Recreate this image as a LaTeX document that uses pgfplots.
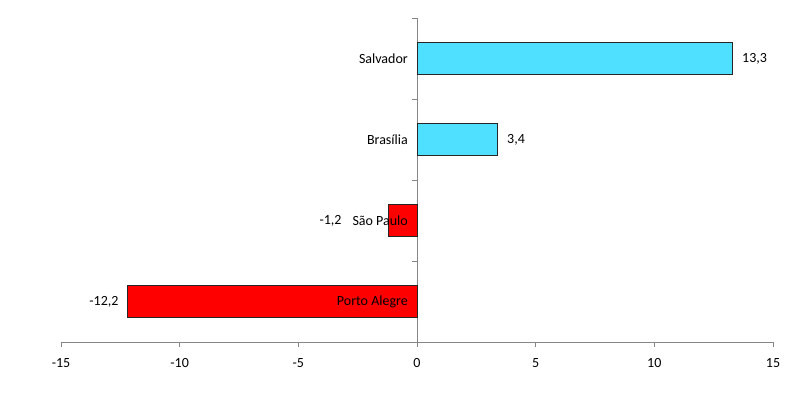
\documentclass[border=0pt]{standalone}
\usepackage{pgfplots}
\pgfplotsset{compat=1.18}
\usepackage{fontspec}
\setmainfont{Carlito}
\definecolor{barcyan}{HTML}{50E0FF}
\definecolor{axgray}{HTML}{868686}
\begin{document}
\fontsize{14pt}{16pt}\selectfont
\begin{tikzpicture}
\begin{axis}[
  scale only axis, width=712pt, height=324pt,
  xmin=-15, xmax=15, ymin=-0.5, ymax=3.5,
  xbar, bar width=0.395,
  axis x line*=bottom, axis y line*=center,
  tick align=outside, major tick length=5pt,
  xtick={-15,-10,-5,0,5,10,15},
  ytick={-0.5,0.5,1.5,2.5,3.5}, yticklabels={},
  axis line style={axgray, line width=0.8pt},
  tick style={axgray, line width=0.8pt},
  /pgf/number format/assume math mode=true,
  /pgf/number format/use comma,
  /pgf/number format/fixed,
  /pgf/number format/fixed zerofill,
  /pgf/number format/precision=1,
  xticklabel={\pgfmathprintnumber[fixed zerofill=false,precision=0]{\tick}},
  xticklabel style={font=\fontsize{14pt}{16pt}\selectfont, inner sep=0pt, anchor=north, yshift=-11pt},
  nodes near coords,
  nodes near coords style={font=\fontsize{14pt}{16pt}\selectfont, inner sep=0pt},
  clip=false,
]
\addplot[fill=barcyan, draw=black!85, line width=1pt, bar shift=0pt,
  every node near coord/.append style={anchor=west, xshift=9pt}]
  coordinates {(3.4,2) (13.3,3)};
\addplot[fill=red, draw=black!85, line width=1pt, bar shift=0pt,
  every node near coord/.append style={anchor=east, xshift=-8.5pt}]
  coordinates {(-12.2,0)};
\addplot[fill=red, draw=black!85, line width=1pt, bar shift=0pt,
  every node near coord/.append style={anchor=east, xshift=-46.5pt}]
  coordinates {(-1.2,1)};
\node[anchor=east, inner sep=0pt, xshift=-9pt] at (axis cs:0,3) {Salvador};
\node[anchor=east, inner sep=0pt, xshift=-9pt] at (axis cs:0,2) {Brasília};
\node[anchor=east, inner sep=0pt, xshift=-9pt] at (axis cs:0,1) {São Paulo};
\node[anchor=east, inner sep=0pt, xshift=-9pt] at (axis cs:0,0) {Porto Alegre};
\end{axis}
\pgfresetboundingbox
\path ([xshift=-61pt,yshift=-75pt]current axis.south west) rectangle ([xshift=38pt,yshift=18pt]current axis.north east);
\end{tikzpicture}
\end{document}
